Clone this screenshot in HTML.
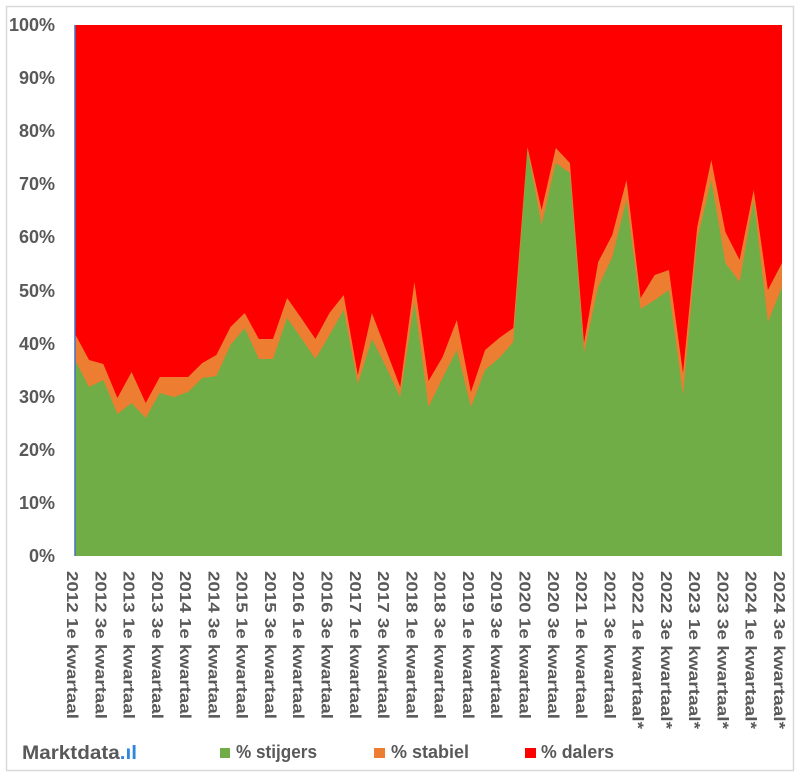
<!DOCTYPE html>
<html><head><meta charset="utf-8"><style>
html,body{margin:0;padding:0;background:#fff;width:802px;height:776px;overflow:hidden}
svg{display:block;font-family:"Liberation Sans",sans-serif}
</style></head><body>
<svg id="s" width="802" height="776" viewBox="0 0 802 776" xmlns="http://www.w3.org/2000/svg">
<rect x="6.5" y="6.5" width="787" height="764" fill="#fff" stroke="#d9d9d9" stroke-width="1.5"/>
<rect x="75" y="25" width="707" height="531" fill="#ff0000"/>
<polygon id="po" fill="#ed7d31"/>
<polygon id="pg" fill="#70ad47"/>
<line x1="75" y1="25" x2="75" y2="556" stroke="#4472c4" stroke-width="1.5"/>
<g font-size="18" font-weight="bold" fill="#595959" text-anchor="end">
<text x="55" y="31">100%</text><text x="55" y="84">90%</text><text x="55" y="137">80%</text>
<text x="55" y="190">70%</text><text x="55" y="243">60%</text><text x="55" y="297">50%</text>
<text x="55" y="350">40%</text><text x="55" y="403">30%</text><text x="55" y="456">20%</text>
<text x="55" y="509">10%</text><text x="55" y="562">0%</text>
</g>
<g id="lab" font-size="16" font-weight="bold" fill="#595959"></g>
<g font-size="18" font-weight="bold" fill="#595959">
<text x="22" y="759" font-size="19" textLength="115" lengthAdjust="spacingAndGlyphs">Marktdata<tspan fill="#2e86de">.ıl</tspan></text>
<rect x="220" y="748" width="10" height="10" fill="#70ad47"/><text x="236" y="758" textLength="81" lengthAdjust="spacingAndGlyphs">% stijgers</text>
<rect x="374" y="748" width="11" height="10" fill="#ed7d31"/><text x="391" y="758" textLength="78" lengthAdjust="spacingAndGlyphs">% stabiel</text>
<rect x="525" y="748" width="11" height="10" fill="#ff0000"/><text x="541" y="758" textLength="73" lengthAdjust="spacingAndGlyphs">% dalers</text>
</g>
</svg>
<script>
var g=[360,387,380,414,403,418,393,397,392,378,376,345,328,359,359,318,338,359,335,310,384,339,367,397,302,407,378,350,407,370,358,342,150,225,163,173,353,287,257,200,309,300,290,395,240,180,263,282,200,322,287];
var o=[334,360,364,398,372,403,377,377,377,363,355,327,313,339,339,298,318,339,313,295,375,313,350,387,282,381,357,320,392,350,338,328,147,210,148,163,343,262,235,180,298,275,270,373,227,160,232,260,190,290,263];
function pts(a){var s="75,556 ";for(var i=0;i<a.length;i++){s+=(75+i*14.14).toFixed(1)+","+a[i]+" ";}return s+"782,556";}
document.getElementById("pg").setAttribute("points",pts(g));
document.getElementById("po").setAttribute("points",pts(o));
var L=document.getElementById("lab"),ns="http://www.w3.org/2000/svg";
for(var k=0;k<26;k++){var yr=2012+Math.floor(k/2),q=k%2?"3e":"1e",st=k>=20;
var t=document.createElementNS(ns,"text");var x=75+k*28.28-8;
t.setAttribute("transform","translate("+x.toFixed(1)+",571) rotate(90)");
t.setAttribute("textLength",st?"158":"148");t.setAttribute("lengthAdjust","spacingAndGlyphs");
t.textContent=yr+" "+q+" kwartaal"+(st?"*":"");L.appendChild(t);}
</script>
</body></html>
